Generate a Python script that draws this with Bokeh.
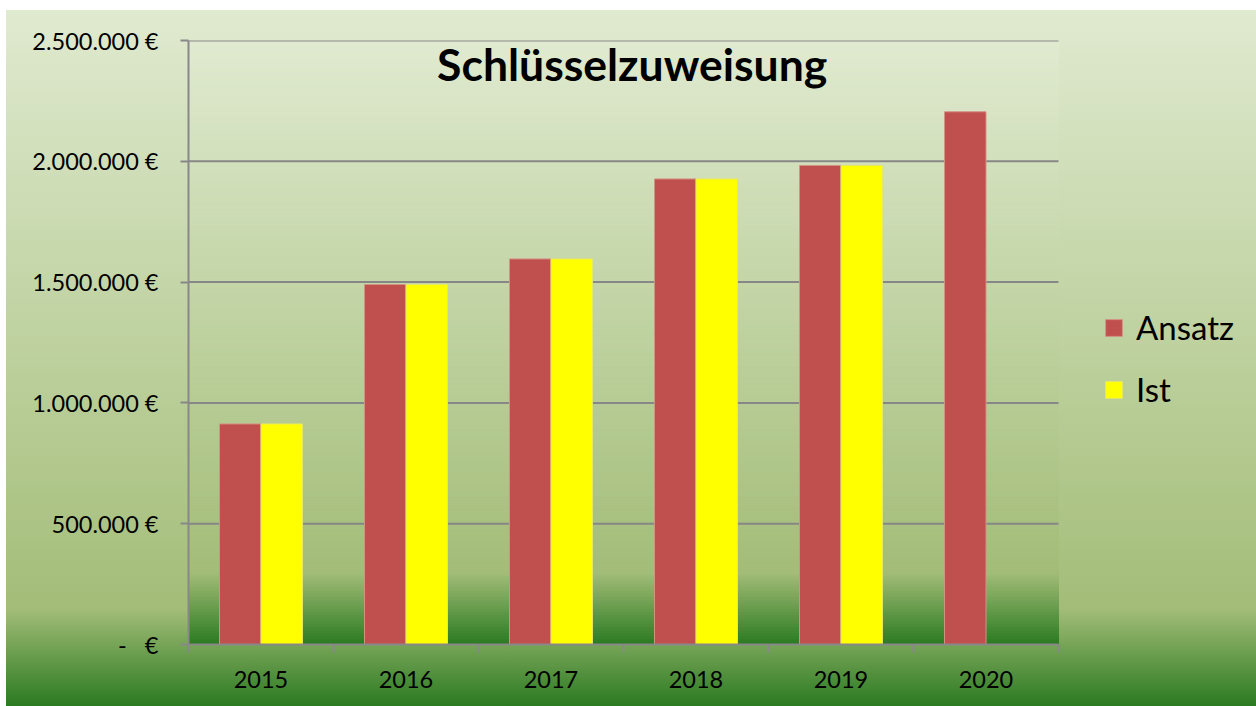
from bokeh.plotting import figure
from bokeh.models import Range1d, FixedTicker, Label, ColumnDataSource, Legend, LegendItem
from bokeh.embed import file_html
from bokeh.resources import INLINE

# ---- data ----
years = ["2015", "2016", "2017", "2018", "2019", "2020"]
ansatz = [913000, 1490000, 1596000, 1927000, 1983000, 2205000]
ist = [913000, 1490000, 1596000, 1927000, 1983000, float("nan")]
y_ticks = [0, 500000, 1000000, 1500000, 2000000, 2500000]
y_labels = ["-\u00a0\u00a0\u00a0€", "500.000 €", "1.000.000 €", "1.500.000 €", "2.000.000 €", "2.500.000 €"]
title_text = "Schlüsselzuweisung"
series_names = ["Ansatz", "Ist"]

# ---- colours ----
LIGHT = (0xE0, 0xEA, 0xD0)
MID = (0xA3, 0xBD, 0x78)
DARK = (0x2B, 0x7A, 0x21)
RED = "#C0504D"
YELLOW = "#FFFF00"
GRID = "#878787"
FONT = "Lato"

def grad(f):
    # f: 0 at top, 1 at bottom
    if f < 0.88:
        t = f / 0.88
        a, b = LIGHT, MID
    else:
        t = (f - 0.88) / 0.12
        a, b = MID, DARK
    c = [round(a[i] + (b[i] - a[i]) * t) for i in range(3)]
    return "#%02x%02x%02x" % tuple(c)

n = len(years)
ymax = y_ticks[-1]

# layout (pixels)
W, H = 1256, 706
LEFT, TOP, BOTTOM = 188, 40, 62
PLOT_W = 870                      # width of the category area
x_end = n * (W - LEFT) / PLOT_W   # frame extends right to hold the legend

p = figure(width=W, height=H, output_backend="svg", toolbar_location=None,
           x_range=Range1d(0, x_end), y_range=Range1d(0, ymax),
           min_border_left=LEFT, min_border_right=0, min_border_top=TOP, min_border_bottom=BOTTOM)
p.border_fill_color = None
p.background_fill_color = None
p.outline_line_color = None
p.styles = {
    "background": "linear-gradient(to bottom, #e0ead0 0%, #a3bd78 86%, #2b7a21 100%) "
                  "6px 10px / 1250px 696px no-repeat, #ffffff"
}

# plot-area gradient
nb = 200
band_b = [ymax * i / nb for i in range(nb)]
band_t = [ymax * (i + 1) / nb for i in range(nb)]
band_c = [grad(1 - (i + 0.5) / nb) for i in range(nb)]
bsrc = ColumnDataSource(dict(b=band_b, t=band_t, c=band_c))
r = p.quad(left=0, right=n, bottom="b", top="t", fill_color="c", line_color="c", line_width=1, source=bsrc)
r.level = "image"

# grid lines limited to the category area
gr = p.segment(x0=0, x1=n, y0=y_ticks[1:], y1=y_ticks[1:], line_color=GRID, line_width=2)
gr.level = "underlay"

# bars
centers = [i + 0.5 for i in range(n)]
bw = 0.286
r1 = p.vbar(x=[c - bw / 2 for c in centers], top=ansatz, width=bw, bottom=0,
            fill_color=RED, line_color="#d39386", line_width=1)
r2 = p.vbar(x=[c + bw / 2 for c in centers], top=ist, width=bw, bottom=0,
            fill_color=YELLOW, line_color="#e6e66a", line_width=1)

# axes
xa = p.xaxis[0]
xa.bounds = (0, n)
xa.ticker = FixedTicker(ticks=centers, minor_ticks=list(range(n + 1)))
xa.major_label_overrides = {c: y for c, y in zip(centers, years)}
xa.major_tick_line_color = None
xa.major_tick_in = 0
xa.major_tick_out = 8
xa.minor_tick_in = 0
xa.minor_tick_out = 8
xa.minor_tick_line_color = "#888888"
xa.minor_tick_line_width = 2
xa.axis_line_color = "#888888"
xa.axis_line_width = 2
xa.major_label_text_font = FONT
xa.major_label_text_font_size = "23.5px"
xa.major_label_text_color = "#000000"
xa.major_label_standoff = 18

ya = p.yaxis[0]
ya.ticker = FixedTicker(ticks=y_ticks, minor_ticks=[])
ya.major_label_overrides = {t: l for t, l in zip(y_ticks, y_labels)}
ya.major_tick_in = 0
ya.major_tick_out = 8
ya.major_tick_line_color = "#888888"
ya.major_tick_line_width = 2
ya.minor_tick_line_color = None
ya.axis_line_color = "#888888"
ya.axis_line_width = 2
ya.major_label_text_font = FONT
ya.major_label_text_font_size = "23.5px"
ya.major_label_text_color = "#000000"
ya.major_label_standoff = 22

p.xgrid.grid_line_color = None
p.ygrid.grid_line_color = None

# title inside plot area
p.add_layout(Label(x=n * 0.51, y=ymax * 0.962, text=title_text, text_font=FONT,
                   text_font_style="bold", text_font_size="44.5px", text_color="#000000",
                   text_align="center", text_baseline="alphabetic"))

# legend to the right of the category area
lg = Legend(items=[LegendItem(label=series_names[0], renderers=[r1]),
                   LegendItem(label=series_names[1], renderers=[r2])],
            location=(915, 235))
lg.background_fill_color = None
lg.border_line_color = None
lg.padding = 0
lg.margin = 0
lg.glyph_width = 21
lg.glyph_height = 21
lg.label_standoff = 12
lg.spacing = 22
lg.label_text_font = FONT
lg.label_text_font_size = "33px"
lg.label_text_color = "#000000"
p.add_layout(lg)

open("out.html", "w").write(file_html(p, INLINE))
